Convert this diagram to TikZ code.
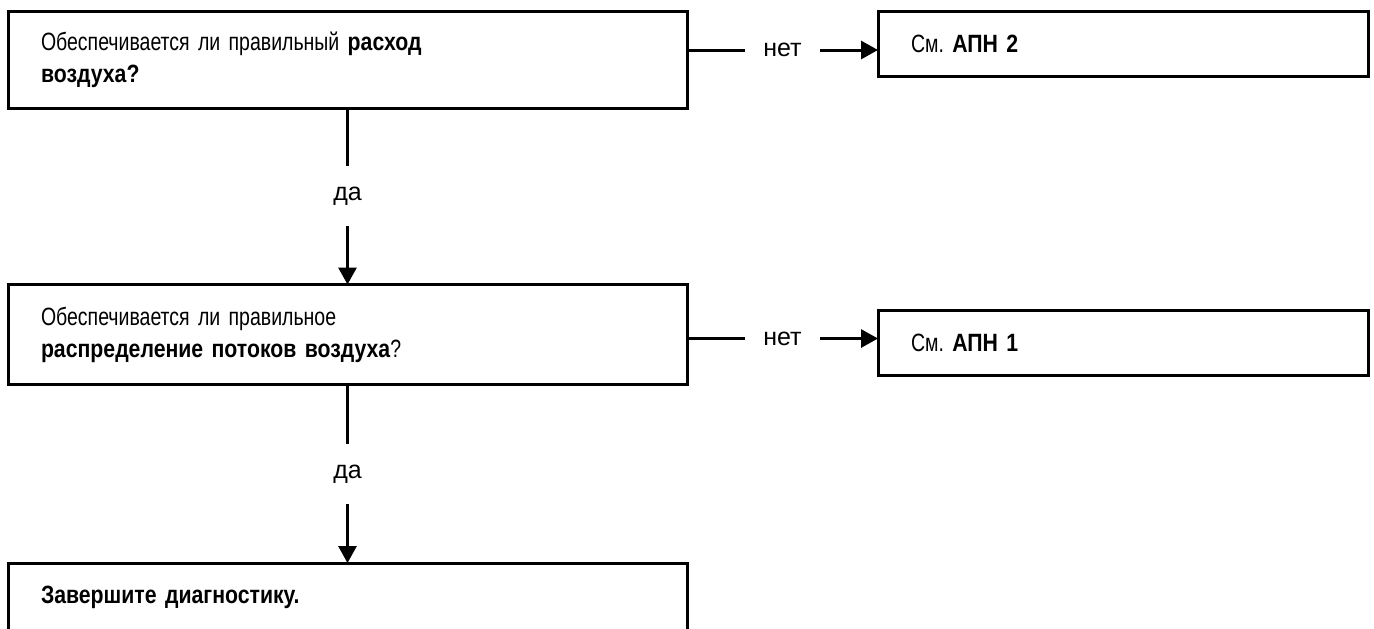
\documentclass[tikz,border=0pt]{standalone}
\usepackage{fontspec}
\setmainfont{Liberation Sans}
\newfontfamily\boxfont{Liberation Sans}[WordSpace=0.75, UprightFeatures={FakeStretch=0.78}, BoldFeatures={FakeStretch=0.85}]
\usetikzlibrary{arrows.meta}

\begin{document}
\begin{tikzpicture}[
    x=0.5pt, y=-0.5pt,
    box/.style={draw, line width=1.5pt, outer sep=0pt, anchor=north west, align=left, inner xsep=16.5pt, inner ysep=0pt, font=\boxfont\fontsize{12.5}{16}\selectfont\frenchspacing},
    question/.style={box, text width=306.5pt, minimum height=48.5pt},
    reference/.style={box, text width=212pt, minimum height=32.5pt},
    finish/.style={box, text width=306.5pt, minimum height=34pt},
    flow/.style={-{Triangle[length=8.5pt, width=9pt]}, line width=1.5pt},
    answer/.style={fill=white, inner sep=0pt, minimum width=37.5pt, minimum height=30pt, font=\fontsize{12.5}{16}\selectfont}
]
    \useasboundingbox (0,0) rectangle (1374,628);

    \node[question] (q1) at (8,11) {Обеспечивается ли правильный \textbf{расход}\\\textbf{воздуха?}};
    \node[question, minimum height=50pt] (q2) at (8,284.5) {Обеспечивается ли правильное\\\textbf{распределение потоков воздуха}?};
    \node[finish] (q3) at (8,563) {\textbf{Завершите диагностику.}};

    \node[reference] (r1) at (878,11) {См. \textbf{АПН 2}};
    \node[reference] (r2) at (878,310) {См. \textbf{АПН 1}};

    \coordinate (no1) at ([yshift=-19.5pt]q1.north east);
    \coordinate (no2) at ([yshift=-27pt]q2.north east);

    \draw[flow] (no1) -- node[answer] {нет} (no1 -| r1.west);
    \draw[flow] (no2) -- node[answer] {нет} (no2 -| r2.west);
    \draw[flow] (q1.south) -- node[answer] {да} (q2.north);
    \draw[flow] (q2.south) -- node[answer] {да} (q3.north);
\end{tikzpicture}
\end{document}
